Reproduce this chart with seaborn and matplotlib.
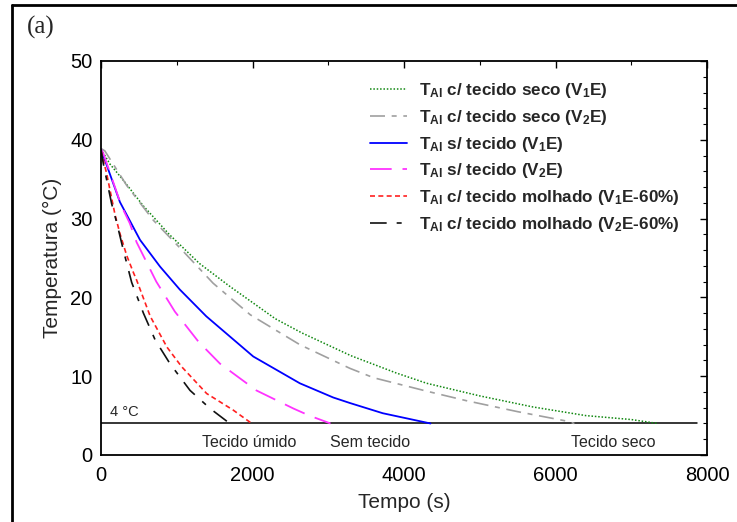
import numpy as np
import pandas as pd
import matplotlib
matplotlib.use("Agg")
import matplotlib.pyplot as plt
from matplotlib.lines import Line2D
from matplotlib.ticker import MultipleLocator
import seaborn as sns

# ---- data ----
t_seco_v1 = [0, 120, 300, 560, 900, 1300, 1700, 2300, 2650, 3300, 3900, 4300, 5000, 5700, 6400, 7000, 7350]
T_seco_v1 = [38.8, 36.9, 34.8, 31.6, 28.0, 24.3, 21.4, 17.3, 15.5, 12.6, 10.4, 9.1, 7.5, 6.1, 5.0, 4.5, 4.0]

t_seco_v2 = [0, 50, 340, 690, 1090, 1480, 1970, 2625, 3285, 3600, 4300, 4820, 5500, 6150, 6250]
T_seco_v2 = [38.9, 38.6, 34.2, 29.8, 25.8, 21.8, 17.8, 14.0, 11.0, 9.8, 8.1, 6.9, 5.5, 4.3, 4.0]

t_sem_v1 = [0, 250, 515, 780, 1040, 1390, 2010, 2625, 3065, 3285, 3720, 4350]
T_sem_v1 = [38.8, 32.1, 27.3, 23.9, 21.0, 17.6, 12.5, 9.1, 7.3, 6.6, 5.3, 4.0]

t_sem_v2 = [0, 30, 270, 380, 470, 600, 730, 975, 1285, 1570, 2050, 2540, 2750, 3030]
T_sem_v2 = [38.8, 38.3, 31.6, 29.4, 27.0, 24.5, 22.0, 18.2, 14.4, 11.6, 8.2, 5.9, 5.0, 4.0]

t_mol_v1 = [0, 75, 185, 250, 340, 430, 470, 650, 870, 1065, 1395, 1745, 1990]
T_mol_v1 = [38.6, 35.7, 30.5, 28.1, 25.3, 23.1, 22.2, 17.6, 13.7, 11.2, 7.8, 5.7, 4.0]

t_mol_v2 = [0, 30, 140, 210, 295, 405, 560, 715, 910, 1175, 1440, 1700]
T_mol_v2 = [38.8, 37.0, 31.9, 29.4, 26.0, 21.9, 18.0, 14.6, 11.6, 8.2, 5.9, 4.0]

labels = [
    r"T$_{\mathbf{Al}}$ c/ tecido seco (V$_{\mathbf{1}}$E)",
    r"T$_{\mathbf{Al}}$ c/ tecido seco (V$_{\mathbf{2}}$E)",
    r"T$_{\mathbf{Al}}$ s/ tecido (V$_{\mathbf{1}}$E)",
    r"T$_{\mathbf{Al}}$ s/ tecido (V$_{\mathbf{2}}$E)",
    r"T$_{\mathbf{Al}}$ c/ tecido molhado (V$_{\mathbf{1}}$E-60%)",
    r"T$_{\mathbf{Al}}$ c/ tecido molhado (V$_{\mathbf{2}}$E-60%)",
]
limit_T = 4
limit_t_end = 7870
region_labels = ["Tecido úmido", "Sem tecido", "Tecido seco"]
region_x = [1960, 3550, 6760]
x_ticks = [0, 2000, 4000, 6000, 8000]
y_ticks = [0, 10, 20, 30, 40, 50]

# ---- style ----
sns.set_theme(style="white")
plt.rcParams["font.family"] = ["Liberation Sans", "DejaVu Sans"]
plt.rcParams["mathtext.fontset"] = "custom"
plt.rcParams["mathtext.rm"] = "Liberation Sans"
plt.rcParams["mathtext.bf"] = "Liberation Sans:bold"
plt.rcParams["mathtext.it"] = "Liberation Sans:italic"

fig = plt.figure(figsize=(7.37, 5.22), dpi=100)
ax = fig.add_axes([101/737, 1-455/522, 606/737, 394/522])

series = [
    (t_seco_v1, T_seco_v1, "#118811", (0, (1, 1.2)), 1.1),
    (t_seco_v2, T_seco_v2, "#a0a0a0", (0, (9, 4, 3, 4)), 1.2),
    (t_sem_v1, T_sem_v1, "#0000ff", "-", 1.3),
    (t_sem_v2, T_sem_v2, "#ff33ff", (0, (12, 6)), 1.3),
    (t_mol_v1, T_mol_v1, "#ff2020", (0, (3, 2)), 1.2),
    (t_mol_v2, T_mol_v2, "#111111", (0, (10, 6, 3, 6)), 1.2),
]
for (tt, TT, c, ls, lw), lab in zip(series, labels):
    df = pd.DataFrame({"t": tt, "T": TT})
    sns.lineplot(data=df, x="t", y="T", ax=ax, color=c, linestyle=ls,
                 linewidth=lw, label=lab, sort=False, estimator=None)

ax.plot([0, limit_t_end], [limit_T, limit_T], color="black", lw=1.1, zorder=1)
ax.text(120, 4.6, "4 °C", fontsize=10.5, ha="left", va="bottom")
for lab, xx in zip(region_labels, region_x):
    ax.text(xx, 1.6, lab, fontsize=11.5, ha="center", va="center")

ax.set_xlim(0, 8000)
ax.set_ylim(0, 50)
ax.set_xticks(x_ticks)
ax.set_yticks(y_ticks)
ax.xaxis.set_minor_locator(MultipleLocator(1000))
ax.yaxis.set_minor_locator(MultipleLocator(2))
ax.tick_params(axis="both", which="both", direction="in", top=True, right=True,
               colors="black", labelsize=14.5)
ax.tick_params(which="major", length=5, width=1)
ax.tick_params(which="minor", length=3, width=0.8)
ax.tick_params(axis="x", pad=8)
ax.tick_params(axis="y", pad=6)
ax.set_xlabel("Tempo (s)", fontsize=15, labelpad=6)
ax.set_ylabel("Temperatura (°C)", fontsize=15, labelpad=6)
for s in ax.spines.values():
    s.set_color("black")
    s.set_linewidth(1.3)

leg = ax.legend(loc="upper left", bbox_to_anchor=(0.432, 0.967), frameon=False,
                prop={"weight": "bold", "size": 12.3}, handlelength=2.2,
                handletextpad=0.7, labelspacing=0.46, borderaxespad=0)

fig.text(41/737, 1-27/522, "(a)", fontsize=18, family="Liberation Serif",
         ha="center", va="center")
fig.add_artist(Line2D([12/737, 12/737], [0, 1-5/522], color="black", lw=2,
                      transform=fig.transFigure))
fig.add_artist(Line2D([12/737, 1], [1-5/522, 1-5/522], color="black", lw=2,
                      transform=fig.transFigure))

fig.savefig("out.png", dpi=100)
